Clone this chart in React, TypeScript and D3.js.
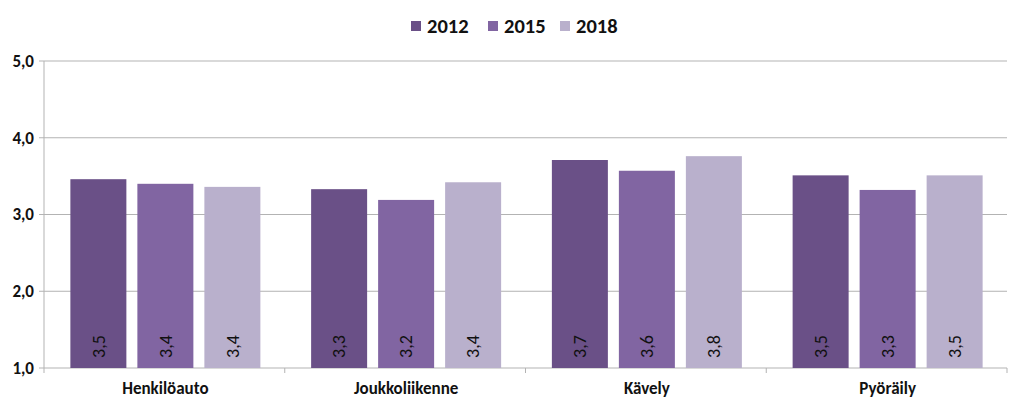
import React from "react";
import * as d3 from "d3";

const categories = ["Henkilöauto", "Joukkoliikenne", "Kävely", "Pyöräily"];
const seriesNames = ["2012", "2015", "2018"];
const values2012 = [3.46, 3.33, 3.71, 3.51];
const values2015 = [3.4, 3.19, 3.57, 3.32];
const values2018 = [3.36, 3.42, 3.76, 3.51];
const yTicks = [1, 2, 3, 4, 5];
const colors = ["#6a5087", "#8165a2", "#b9b0cc"];

const W = 1023;
const H = 408;
const left = 44;
const right = 1007;
const top = 61;
const bottom = 368;
const FONT = "Carlito, Lato, 'Open Sans', sans-serif";

export default function App() {
  const series = [values2012, values2015, values2018];
  const x = d3.scaleBand<string>().domain(categories).range([left, right]).paddingInner(0).paddingOuter(0);
  const y = d3.scaleLinear().domain([1, 5]).range([bottom, top]);
  const bw = x.bandwidth();
  const barW = 56;
  const gap = 11;
  const groupW = barW * 3 + gap * 2;
  const off = 1;
  const inner = d3
    .scaleBand<string>()
    .domain(seriesNames)
    .range([(bw - groupW) / 2 + off, (bw + groupW) / 2 + off])
    .paddingInner(gap / (barW + gap))
    .paddingOuter(0);
  const fmt = (v: number) => v.toFixed(1).replace(".", ",");
  const legendX = [411, 488, 560];

  return (
    <svg width={W} height={H} style={{ position: "absolute", left: 0, top: 0, background: "#fff" }}>
      {yTicks.map((t) => (
        <g key={t}>
          <line x1={left - 5} x2={right} y1={y(t)} y2={y(t)} stroke="#b3b3b3" strokeWidth={1} />
          <text
            x={34}
            y={y(t)}
            dy="0.35em"
            textAnchor="end"
            fontFamily={FONT}
            fontWeight="bold"
            fontSize={17}
            fill="#111"
          >
            {fmt(t)}
          </text>
        </g>
      ))}
      <line x1={left} x2={left} y1={top} y2={bottom} stroke="#b3b3b3" strokeWidth={1} />
      {categories.map((c, ci) => (
        <g key={c} transform={`translate(${x(c)},0)`}>
          {series.map((s, si) => {
            const bx = inner(seriesNames[si])!;
            const w = inner.bandwidth();
            return (
              <g key={si}>
                <rect x={bx} y={y(s[ci])} width={w} height={y(1) - y(s[ci])} fill={colors[si]} />
                <text
                  transform={`translate(${bx + w / 2},${bottom - 21.5}) rotate(-90)`}
                  textAnchor="middle"
                  dy="0.35em"
                  fontFamily={FONT}
                  fontSize={18}
                  fill="#111"
                >
                  {fmt(s[ci])}
                </text>
              </g>
            );
          })}
          <text
            x={bw / 2 + off}
            y={394}
            textAnchor="middle"
            fontFamily={FONT}
            fontWeight="bold"
            fontSize={17}
            fill="#111"
          >
            {c}
          </text>
        </g>
      ))}
      {categories.map((c, i) => (
        <line key={"t" + i} x1={x(c)!} x2={x(c)!} y1={bottom} y2={bottom + 5} stroke="#b3b3b3" />
      ))}
      <line x1={right} x2={right} y1={bottom} y2={bottom + 5} stroke="#b3b3b3" />
      {seriesNames.map((n, i) => (
        <g key={n}>
          <rect x={legendX[i]} y={21} width={10} height={10} fill={colors[i]} />
          <text
            x={legendX[i] + 16}
            y={26}
            dy="0.36em"
            fontFamily={FONT}
            fontWeight="bold"
            fontSize={20.5}
            fill="#111"
          >
            {n}
          </text>
        </g>
      ))}
    </svg>
  );
}
